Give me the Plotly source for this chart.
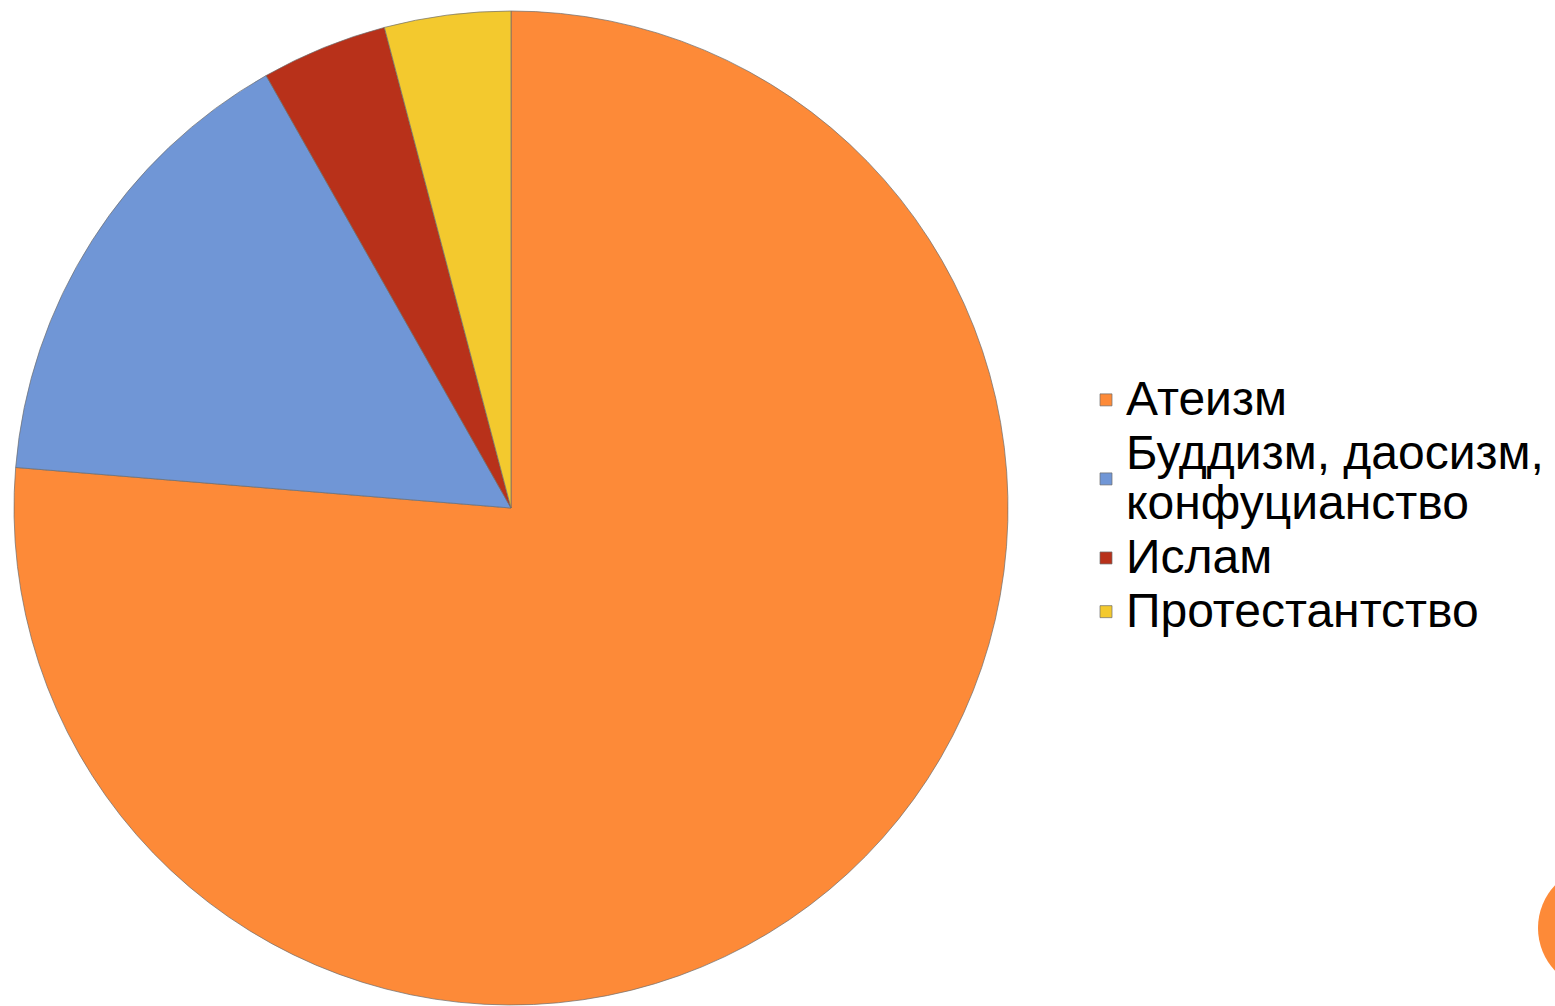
import plotly.graph_objects as go

labels = ["Атеизм", "Буддизм, даосизм,<br>конфуцианство", "Ислам", "Протестантство"]
values = [76.3, 15.5, 4.1, 4.1]
colors = ["#FD8A38", "#7096D6", "#B8311A", "#F3C92E"]

W, H = 1555, 1006
cx, cy, r = 511, 508, 497

legend_names = ['<span style="font-size:48px">' + l.replace("<br>", '</span><br><span style="font-size:48px">') + "</span>" for l in labels]

fig = go.Figure(go.Pie(
    labels=legend_names,
    values=values,
    sort=False,
    direction="clockwise",
    rotation=0,
    textinfo="none",
    hoverinfo="label+percent",
    marker=dict(colors=colors, line=dict(color="rgba(110,110,110,0.7)", width=1)),
    domain=dict(x=[(cx - r) / W, (cx + r) / W], y=[(H - cy - r) / H, (H - cy + r) / H]),
))

fig.add_shape(type="circle", xref="paper", yref="paper",
              x0=(1600 - 62) / W, x1=(1600 + 62) / W,
              y0=(H - 928 - 62) / H, y1=(H - 928 + 62) / H,
              fillcolor="#FD8A38", line=dict(width=0))

fig.update_layout(
    width=W, height=H,
    margin=dict(l=0, r=0, t=0, b=0),
    paper_bgcolor="white",
    plot_bgcolor="white",
    showlegend=True,
    legend=dict(
        x=(1127 - 41) / W, xanchor="left",
        y=0.497, yanchor="middle",
        font=dict(family="Liberation Sans, Arial, sans-serif", size=39, color="black"),
        bgcolor="rgba(0,0,0,0)",
        itemwidth=30,
    ),
)

fig.write_html("out.html", config={"displayModeBar": False},
               post_script="document.body.style.margin='0px';document.body.style.overflow='hidden';")
